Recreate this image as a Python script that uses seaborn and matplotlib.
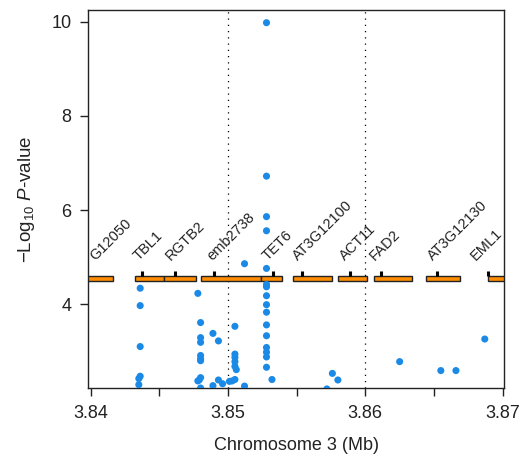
import numpy as np
import pandas as pd
import matplotlib
matplotlib.use("Agg")
import matplotlib.pyplot as plt
import seaborn as sns

# SNP positions (Mb) and -log10 P-values
snp_pos = [3.8436, 3.8436, 3.8436, 3.8436, 3.8435, 3.8435,
           3.8478, 3.8480, 3.8489, 3.8480, 3.8493, 3.8480, 3.8505,
           3.8480, 3.8480, 3.8480, 3.8505, 3.8505, 3.8505, 3.8505, 3.8506,
           3.8480, 3.8479, 3.8478, 3.8493, 3.8480, 3.8489, 3.8496, 3.8501,
           3.8503, 3.8505, 3.8512, 3.8512,
           3.8528, 3.8528, 3.8528, 3.8528, 3.8528, 3.8528, 3.8528, 3.8528,
           3.8528, 3.8528, 3.8528, 3.8528, 3.8528, 3.8528, 3.8528, 3.8532,
           3.8528,
           3.8572, 3.8576, 3.8580, 3.8625, 3.8655, 3.8666, 3.8687]
snp_logp = [4.34, 3.97, 3.10, 2.47, 2.42, 2.29,
            4.23, 3.61, 3.38, 3.29, 3.22, 3.19, 3.53,
            2.91, 2.84, 2.80, 2.94, 2.87, 2.78, 2.68, 2.61,
            2.44, 2.39, 2.37, 2.39, 2.22, 2.27, 2.31, 2.36,
            2.37, 2.40, 2.26, 4.86,
            9.98, 6.72, 5.86, 5.56, 4.76, 4.42, 4.37, 4.18,
            3.99, 3.83, 3.56, 3.33, 3.08, 2.98, 2.88, 2.40,
            2.66,
            2.20, 2.53, 2.39, 2.78, 2.59, 2.59, 3.26]

# gene models: name, start, end, TSS (Mb)
gene_names = ["G12050", "TBL1", "RGTB2", "emb2738", "TET6", "AT3G12100",
              "ACT11", "FAD2", "AT3G12130", "EML1"]
gene_start = [3.8390, 3.8432, 3.8453, 3.8480, 3.8524, 3.8547,
              3.8580, 3.8606, 3.8644, 3.8689]
gene_end = [3.8416, 3.8453, 3.8477, 3.8524, 3.8539, 3.8576,
            3.8601, 3.8634, 3.8669, 3.8720]
gene_tss = [np.nan, 3.84375, 3.84614, 3.84896, 3.85331, 3.85541,
            3.85889, 3.86114, 3.86520, 3.86897]
label_x = [3.84030, 3.84345, 3.84585, 3.84885, 3.85285, 3.85510,
           3.85855, 3.86070, 3.86490, 3.86805]

df = pd.DataFrame({"pos": snp_pos, "logp": snp_logp})

sns.set_style("ticks")
plt.rcParams["font.family"] = ["Liberation Sans", "DejaVu Sans"]
plt.rcParams["mathtext.fontset"] = "custom"
plt.rcParams["mathtext.rm"] = "Liberation Sans"
plt.rcParams["mathtext.it"] = "Liberation Sans:italic"

fig = plt.figure(figsize=(5.29, 4.54), dpi=100)
ax = fig.add_axes([0.1664, 0.1454, 0.7863, 0.8326])

# dotted guides
for xv in [3.85, 3.86]:
    ax.axvline(xv, color="black", lw=0.9, ls=(0, (1, 4)), zorder=1)

# gene bars
ax.barh([4.54] * len(gene_names), [e - s for s, e in zip(gene_start, gene_end)],
        left=gene_start, height=0.1, color="#ff8c00", edgecolor="#222222",
        linewidth=1, zorder=2)
ax.vlines(gene_tss, 4.595, 4.71, color="black", lw=2.2, zorder=3)
for i, (name, lx) in enumerate(zip(gene_names, label_x)):
    ax.text(lx, 4.92, name, rotation=45, rotation_mode="anchor", ha="left",
            va="baseline", fontsize=10.5, color="#222222",
            clip_on=(i == 0), zorder=3)

sns.scatterplot(data=df, x="pos", y="logp", ax=ax, color="#1a8ae6", s=26,
                edgecolor="none", zorder=4, clip_on=True)

ax.set_xlim(3.8398, 3.8701)
ax.set_ylim(2.22, 10.25)
ax.set_xticks([3.84, 3.845, 3.85, 3.855, 3.86, 3.865, 3.87])
ax.set_xticklabels(["3.84", "", "3.85", "", "3.86", "", "3.87"])
ax.set_yticks([4, 6, 8, 10])
ax.tick_params(length=6, width=1, labelsize=13, colors="#222222", pad=6)
for sp in ax.spines.values():
    sp.set_color("#222222")
    sp.set_linewidth(1)

ax.set_xlabel("Chromosome 3 (Mb)", fontsize=13, color="#222222", labelpad=11)
ax.set_ylabel(r"$-$Log$_{10}$ $P$-value", fontsize=13.5, color="#222222", labelpad=10)

fig.savefig("out.png", dpi=100)
